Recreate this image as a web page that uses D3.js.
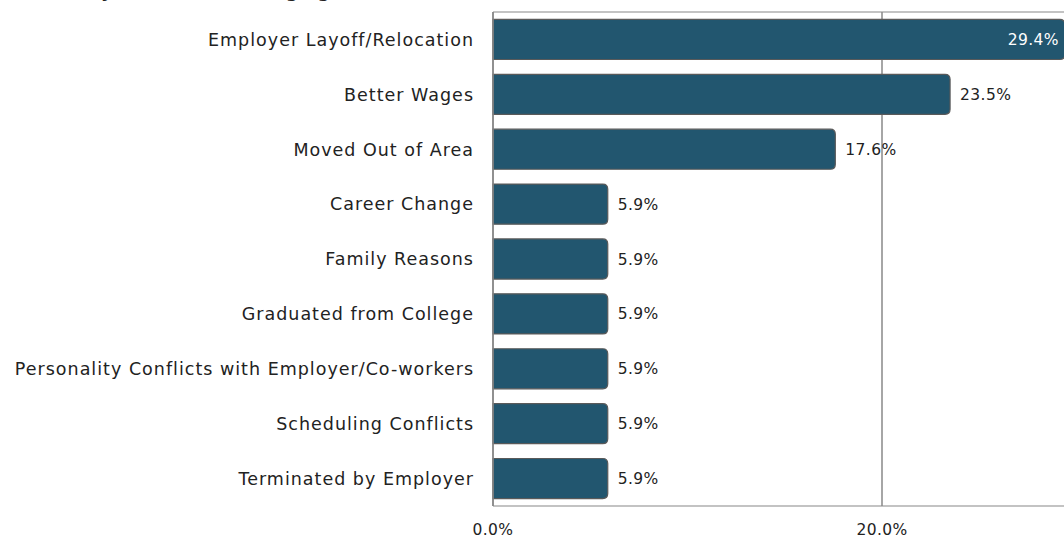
<!DOCTYPE html>
<html>
<head>
<meta charset="utf-8">
<script src="https://cdn.jsdelivr.net/npm/d3@7"></script>
<style>
  body { margin: 0; background: #fff; }
  text { font-family: "DejaVu Sans", sans-serif; }
</style>
</head>
<body>
<svg id="chart" width="1064" height="541"></svg>
<script>
// reasons + share of respondents
const reasons = [
  'Employer Layoff/Relocation',
  'Better Wages',
  'Moved Out of Area',
  'Career Change',
  'Family Reasons',
  'Graduated from College',
  'Personality Conflicts with Employer/Co-workers',
  'Scheduling Conflicts',
  'Terminated by Employer'
];
const shares = [0.294, 0.235, 0.176, 0.059, 0.059, 0.059, 0.059, 0.059, 0.059];
const xTicks = [0, 0.2];
const title = 'Primary Reason for Changing Work';

const svg = d3.select('#chart');
const plotLeft = 493, plotRight = 1076.5, plotTop = 12, plotBottom = 506;

const x = d3.scaleLinear().domain([0, 0.3]).range([plotLeft, plotRight]);
const y = d3.scaleBand().domain(reasons).range([plotTop, plotBottom]).paddingInner(0.27).paddingOuter(0.135);
const fmt = d3.format('.1%');

// title (cut off at the top, only descenders show)
svg.append('text')
  .attr('x', 33).attr('y', -3)
  .attr('font-size', 18).attr('font-weight', 'bold')
  .attr('fill', '#222')
  .text(title);

// frame + grid
svg.append('line')
  .attr('x1', plotLeft).attr('x2', 1064).attr('y1', plotTop).attr('y2', plotTop)
  .attr('stroke', '#888').attr('stroke-width', 1.2);
svg.append('line')
  .attr('x1', plotLeft).attr('x2', 1064).attr('y1', plotBottom).attr('y2', plotBottom)
  .attr('stroke', '#888').attr('stroke-width', 1.2);
svg.selectAll('.grid').data(xTicks).join('line')
  .attr('class', 'grid')
  .attr('x1', d => x(d)).attr('x2', d => x(d))
  .attr('y1', plotTop).attr('y2', plotBottom)
  .attr('stroke', '#888').attr('stroke-width', 1.5);

// bars with rounded right end
const r = 5;
function barPath (d, i) {
  const x0 = x(0), x1 = x(shares[i]);
  const y0 = y(d), h = y.bandwidth();
  return `M${x0},${y0} H${x1 - r} Q${x1},${y0} ${x1},${y0 + r} V${y0 + h - r} Q${x1},${y0 + h} ${x1 - r},${y0 + h} H${x0} Z`;
}
svg.selectAll('.bar').data(reasons).join('path')
  .attr('class', 'bar')
  .attr('d', barPath)
  .attr('fill', '#22566f')
  .attr('stroke', '#5a5a5a')
  .attr('stroke-width', 1.2);

// left axis line on top of bars
svg.append('line')
  .attr('x1', plotLeft).attr('x2', plotLeft).attr('y1', plotTop).attr('y2', plotBottom)
  .attr('stroke', '#888').attr('stroke-width', 1.5);

// value labels
svg.selectAll('.val').data(reasons).join('text')
  .attr('class', 'val')
  .attr('x', (d, i) => i === 0 ? 1059 : x(shares[i]) + 10)
  .attr('y', d => y(d) + y.bandwidth() / 2)
  .attr('dy', '0.36em')
  .attr('text-anchor', (d, i) => i === 0 ? 'end' : 'start')
  .attr('font-size', 15.5)
  .attr('letter-spacing', 0.4)
  .attr('fill', (d, i) => i === 0 ? '#fff' : '#222')
  .text((d, i) => fmt(shares[i]));

// category labels
svg.selectAll('.cat').data(reasons).join('text')
  .attr('class', 'cat')
  .attr('x', 474)
  .attr('y', d => y(d) + y.bandwidth() / 2)
  .attr('dy', '0.36em')
  .attr('text-anchor', 'end')
  .attr('font-size', 17.5)
  .attr('letter-spacing', 1.0)
  .attr('fill', '#222')
  .text(d => d);

// x tick labels
svg.selectAll('.tick').data(xTicks).join('text')
  .attr('class', 'tick')
  .attr('x', d => x(d))
  .attr('y', 535)
  .attr('text-anchor', 'middle')
  .attr('font-size', 15.5)
  .attr('letter-spacing', 0.4)
  .attr('fill', '#222')
  .text(d => fmt(d));
</script>
</body>
</html>
